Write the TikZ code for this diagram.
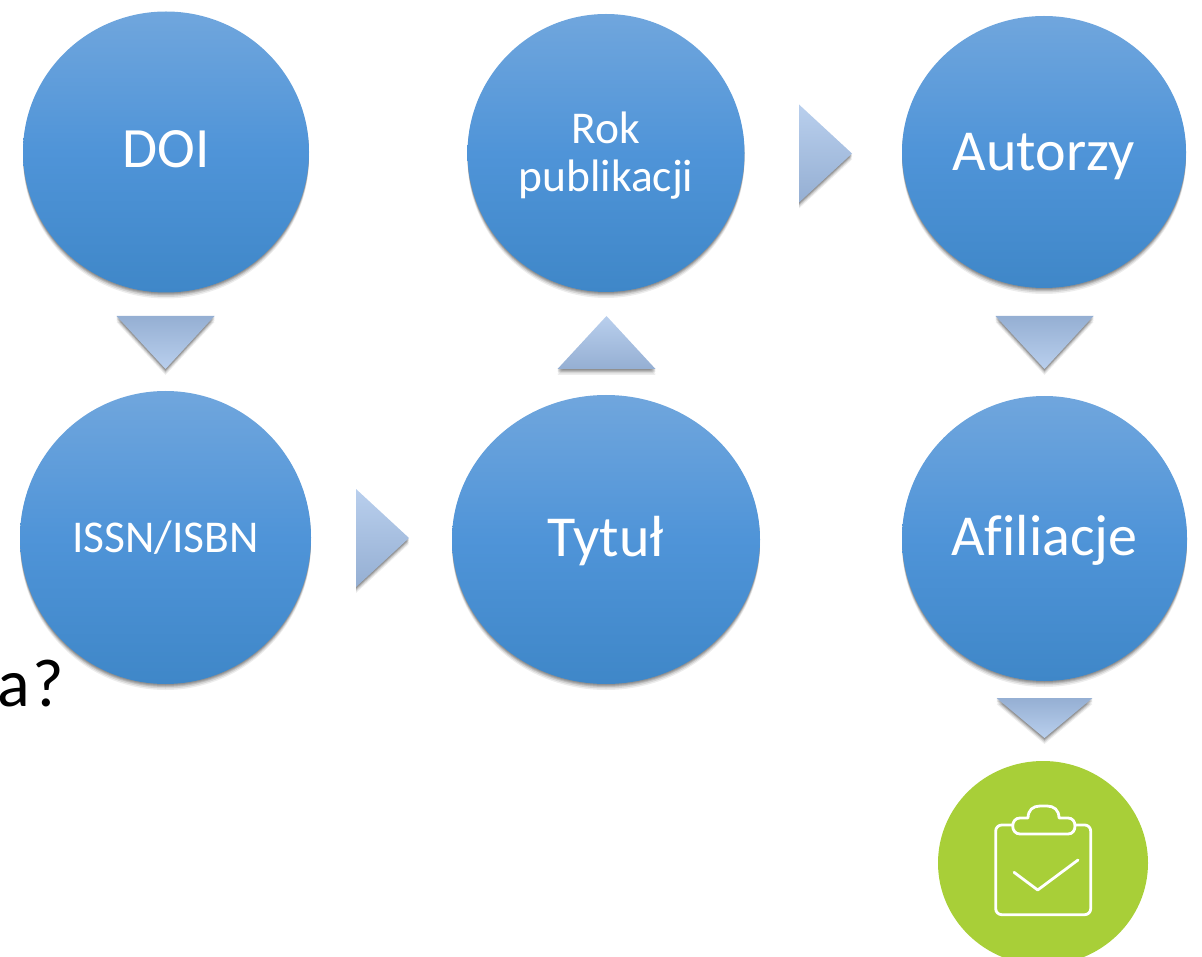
\documentclass[tikz,border=0pt]{standalone}
\usepackage{fontspec}
\setmainfont[Ligatures=NoCommon]{Carlito}
\usepackage{xcolor}
\usetikzlibrary{shapes.geometric, shadows}
\definecolor{bluetop}{HTML}{70A6DD}
\definecolor{bluemid}{HTML}{4F94D8}
\definecolor{bluelow}{HTML}{3F87C8}
\definecolor{trilight}{HTML}{B9CFED}
\definecolor{tridark}{HTML}{95AFD3}
\definecolor{leaf}{HTML}{A8CF38}
\newcommand{\lowered}[2]{\raisebox{-#1}[0pt][0pt]{#2}}
\tikzset{
    softshadow/.style={
        drop shadow={shadow xshift=0pt, shadow yshift=-1pt, opacity=0.12, fill=black},
        drop shadow={shadow xshift=0pt, shadow yshift=-2pt, opacity=0.12, fill=black},
        drop shadow={shadow xshift=0pt, shadow yshift=-3pt, opacity=0.12, fill=black},
        drop shadow={shadow xshift=0pt, shadow yshift=-4.5pt, opacity=0.10, fill=black},
        drop shadow={shadow xshift=0pt, shadow yshift=-6pt, opacity=0.07, fill=black},
    },
    topic/.style={
        ellipse,
        inner sep=0pt,
        text=white,
        align=center,
        softshadow,
        top color=bluetop,
        bottom color=bluelow,
        middle color=bluemid,
    },
    tip/.style={
        isosceles triangle,
        isosceles triangle stretches,
        isosceles triangle apex angle=90,
        inner sep=0pt,
        outer sep=0pt,
        minimum height=53pt,
        minimum width=98pt,
        anchor=apex,
        softshadow,
    },
    tipdown/.style={tip, shape border rotate=-90, top color=tridark, bottom color=trilight},
    tipup/.style={tip, shape border rotate=90, top color=trilight, bottom color=tridark},
    tipright/.style={tip, shape border rotate=0, top color=trilight, bottom color=tridark},
    icon/.style={draw=white, line width=2.8pt, line join=round, line cap=round},
}
\begin{document}
\begin{tikzpicture}[x=1pt, y=-1pt]
    \useasboundingbox (0,0) rectangle (1202,957);

    \node [anchor=base east, inner sep=0pt, font=\fontsize{68}{68}\selectfont] (question) at (64,706) {ka\kern2pt?};

    \node [topic, minimum width=286pt, minimum height=281pt, font=\fontsize{57}{57}\selectfont] (doi) at (166,152) {\lowered{16pt}{DOI}};
    \node [topic, minimum width=291pt, minimum height=293pt, font=\fontsize{45.5}{45.5}\selectfont] (issn) at (165.5,537.5) {\lowered{14.5pt}{ISSN/ISBN}};
    \node [topic, minimum width=308pt, minimum height=289pt, font=\fontsize{58}{58}\selectfont] (title) at (606,539.5) {\lowered{16.5pt}{Tytuł}};
    \node [topic, minimum width=277pt, minimum height=278pt, font=\fontsize{45.5}{48}\selectfont] (year) at (606,153) {\lowered{14.5pt}{Rok}\\\lowered{14.5pt}{publikacji}};
    \node [topic, minimum width=284pt, minimum height=272pt, font=\fontsize{58}{58}\selectfont] (authors) at (1044,152) {\lowered{19pt}{Autorzy}};
    \node [topic, minimum width=285pt, minimum height=285pt, font=\fontsize{58}{58}\selectfont] (affil) at (1044.5,538.5) {\lowered{16.5pt}{Afiliacje}};
    \node [ellipse, fill=leaf, inner sep=0pt, minimum width=210pt, minimum height=204pt] (check) at (1043,863) {};

    \node [tipdown] (doi-issn) at (165.5,369) {};
    \node [tipright] (issn-title) at (409,538) {};
    \node [tipup] (title-year) at (606.5,316) {};
    \node [tipright] (year-authors) at (852,153.5) {};
    \node [tipdown] (authors-affil) at (1044.5,369) {};
    \node [tipdown, minimum height=40pt, minimum width=96pt] (affil-check) at (1044.5,738) {};

    % clipboard
    \draw [icon, rounded corners=6pt] (1012.7,825) -- (995.7,825) -- (995.7,914.7) -- (1090.7,914.7) -- (1090.7,825) -- (1075,825);
    \draw [icon] (1028,818) .. controls (1028,810) and (1033,806) .. (1040,806) -- (1047,806) .. controls (1054,806) and (1059,810) .. (1059,818) -- (1068,818) .. controls (1072.5,818) and (1075,821.5) .. (1075,826) .. controls (1075,830.5) and (1072.5,834) .. (1068,834) -- (1020,834) .. controls (1015.5,834) and (1012.7,830.5) .. (1012.7,826) .. controls (1012.7,821.5) and (1015.5,818) .. (1020,818) -- cycle;
    \draw [icon] (1014,872.3) -- (1037.7,890) -- (1078,860);
\end{tikzpicture}
\end{document}
